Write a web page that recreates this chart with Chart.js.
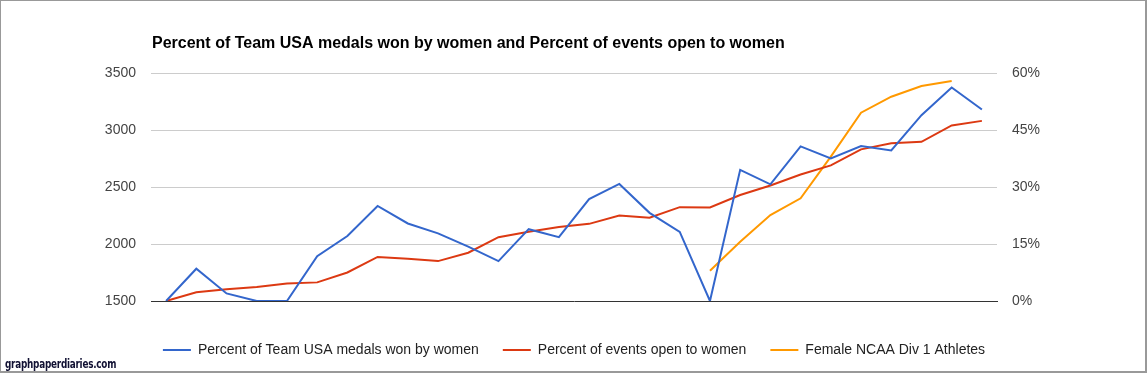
<!DOCTYPE html>
<html lang="en">
<head>
    <meta charset="UTF-8">
    <title>Team USA women medals</title>
    <script src="https://cdn.jsdelivr.net/npm/chart.js"></script>
    <style>
        body {
            margin: 0;
            padding: 0;
            background: #fff;
        }

        /* Frame round the whole picture */
        .frame {
            position: absolute;
            left: 0;
            top: 0;
            width: 1147px;
            height: 373px;
            box-sizing: border-box;
            border: 1px solid #999;
            border-right: 2px solid #999;
            border-bottom: 2px solid #999;
        }

        #chart {
            position: absolute;
            left: 0;
            top: 0;
        }

        .watermark {
            position: absolute;
            left: 5px;
            top: 357px;
            font-family: 'DejaVu Sans Condensed', sans-serif;
            font-weight: bold;
            font-size: 12px;
            color: #111133;
            letter-spacing: -0.3px;
            transform: scaleX(0.82);
            transform-origin: left top;
        }
    </style>
</head>
<body>

    <div class="frame"></div>
    <canvas id="chart" width="1148" height="374"></canvas>
    <div class="watermark">graphpaperdiaries.com</div>

    <script>
        // Summer Olympic years (1896 - 2016)
        var years = [1896, 1900, 1904, 1908, 1912, 1920, 1924, 1928, 1932, 1936,
                     1948, 1952, 1956, 1960, 1964, 1968, 1972, 1976, 1980, 1984,
                     1988, 1992, 1996, 2000, 2004, 2008, 2012, 2016];

        // percent of Team USA medals won by women
        var medalsPct = [0, 8.5, 2.0, 0, 0, 11.8, 17.1, 25.0, 20.4, 17.8,
                         14.3, 10.5, 18.9, 16.8, 26.8, 30.8, 23.2, 18.2, 0, 34.5,
                         30.7, 40.7, 37.5, 40.8, 39.6, 48.9, 56.2, 50.4];

        // percent of events open to women
        var eventsPct = [0, 2.3, 3.1, 3.7, 4.6, 4.9, 7.5, 11.6, 11.1, 10.5,
                         12.7, 16.8, 18.2, 19.5, 20.3, 22.5, 21.9, 24.7, 24.6, 27.9,
                         30.4, 33.3, 35.7, 39.9, 41.5, 41.9, 46.2, 47.4];

        // female NCAA division 1 athletes (left axis)
        var ncaaAthletes = [null, null, null, null, null, null, null, null, null, null,
                            null, null, null, null, null, null, null, null, 1766, 2020,
                            2254, 2401, 2766, 3152, 3292, 3386, 3430, null];

        var leftTicks = [1500, 2000, 2500, 3000, 3500];
        var rightTicks = [0, 15, 30, 45, 60];

        var chartTitle = "Percent of Team USA medals won by women and Percent of events open to women";

        var FONT = "'Liberation Sans', Arial, sans-serif";

        // title drawn at the left edge of the plot area
        var titlePlugin = {
            id: "plotTitle",
            afterDraw: function(chart) {
                var ctx = chart.ctx;
                ctx.save();
                ctx.font = "bold 16px " + FONT;
                ctx.fillStyle = "#000";
                ctx.textBaseline = "alphabetic";
                ctx.fillText(chartTitle, chart.chartArea.left + 1, 48);
                ctx.restore();
            }
        };

        document.addEventListener("DOMContentLoaded", function() {
            new Chart(document.getElementById("chart").getContext("2d"), {
                type: "line",
                data: {
                    labels: years,
                    datasets: [
                        { label: "Percent of Team USA medals won by women", data: medalsPct, yAxisID: "yRight",
                          borderColor: "#3366cc", backgroundColor: "#3366cc", borderWidth: 2 },
                        { label: "Percent of events open to women", data: eventsPct, yAxisID: "yRight",
                          borderColor: "#dc3912", backgroundColor: "#dc3912", borderWidth: 2 },
                        { label: "Female NCAA Div 1 Athletes", data: ncaaAthletes, yAxisID: "yLeft",
                          borderColor: "#ff9900", backgroundColor: "#ff9900", borderWidth: 2 }
                    ]
                },
                options: {
                    responsive: false,
                    animation: false,
                    layout: { padding: { top: 73, left: 0, right: 0, bottom: 7 } },
                    elements: {
                        point: { radius: 0, hoverRadius: 0 },
                        line: { tension: 0 }
                    },
                    scales: {
                        x: {
                            offset: true,
                            grid: { display: false, drawTicks: false },
                            border: { display: true, color: "#333", width: 1 },
                            ticks: { display: false },
                            afterFit: function(scale) { scale.height = 18; }
                        },
                        yLeft: {
                            position: "left",
                            min: 1500,
                            max: 3500,
                            afterBuildTicks: function(scale) {
                                scale.ticks = leftTicks.map(function(v) { return { value: v }; });
                            },
                            grid: {
                                drawTicks: false,
                                color: function(c) { return c.tick && c.tick.value === 1500 ? "rgba(0,0,0,0)" : "#cccccc"; }
                            },
                            border: { display: false },
                            ticks: {
                                padding: 15,
                                color: "#444",
                                font: { family: FONT, size: 14 },
                                callback: function(v) { return String(v); }
                            },
                            afterFit: function(scale) { scale.width = 151; }
                        },
                        yRight: {
                            position: "right",
                            min: 0,
                            max: 60,
                            afterBuildTicks: function(scale) {
                                scale.ticks = rightTicks.map(function(v) { return { value: v }; });
                            },
                            grid: { display: false, drawTicks: false },
                            border: { display: false },
                            ticks: {
                                padding: 15,
                                color: "#444",
                                font: { family: FONT, size: 14 },
                                callback: function(v) { return v + "%"; }
                            },
                            afterFit: function(scale) { scale.width = 151; }
                        }
                    },
                    plugins: {
                        legend: {
                            position: "bottom",
                            labels: {
                                usePointStyle: true,
                                pointStyle: "line",
                                pointStyleWidth: 28,
                                padding: 24,
                                color: "#222",
                                font: { family: FONT, size: 14 }
                            }
                        },
                        tooltip: { enabled: false }
                    }
                },
                plugins: [titlePlugin]
            });
        });
    </script>

</body>
</html>
